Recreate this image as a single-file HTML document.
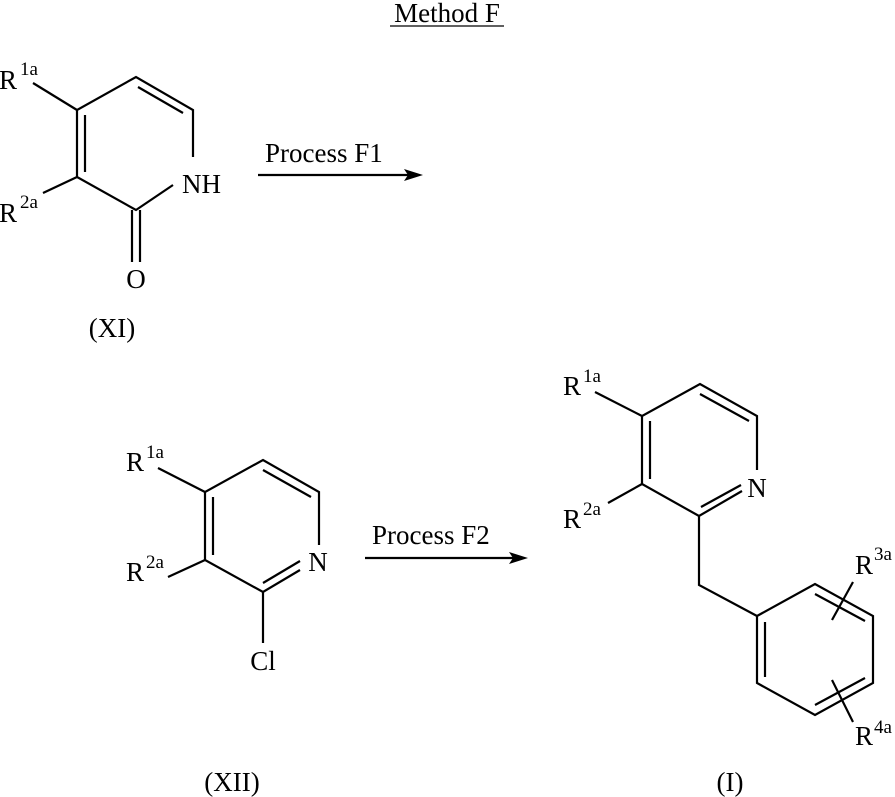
<!DOCTYPE html>
<html><head><style>
html,body{margin:0;padding:0;background:#fff;}
svg{display:block;}
text{font-family:"Liberation Serif",serif;font-size:27px;fill:#000;}
.s{font-size:19px;}
</style></head><body>
<svg width="895" height="797" viewBox="0 0 895 797" xmlns="http://www.w3.org/2000/svg">
<g stroke="#000" stroke-width="2.2" fill="none" stroke-linecap="butt">
<!-- XI -->
<polyline points="193,157 193,110 136,77 77,110 77,177 136,210 173,185"/>
<line x1="85" y1="115" x2="85" y2="172"/>
<line x1="138" y1="87" x2="183" y2="113"/>
<line x1="132" y1="210" x2="132" y2="262"/>
<line x1="140" y1="210" x2="140" y2="262"/>
<line x1="77" y1="110" x2="33" y2="83"/>
<line x1="77" y1="177" x2="43" y2="193"/>
<line x1="258" y1="175" x2="410" y2="175"/>
<!-- XII -->
<polyline points="319,545 319,492 263,460 205,492 205,560 263,592 300,570"/>
<line x1="213" y1="497" x2="213" y2="555"/>
<line x1="263" y1="470" x2="311" y2="497"/>
<line x1="263" y1="583" x2="300" y2="561"/>
<line x1="263" y1="592" x2="263" y2="643"/>
<line x1="205" y1="492" x2="158" y2="468"/>
<line x1="205" y1="560" x2="168" y2="577"/>
<line x1="365" y1="558" x2="515" y2="558"/>
<!-- I -->
<polyline points="757,470 757,416 700,384 642,416 642,484 699,516 742,491"/>
<line x1="650" y1="421" x2="650" y2="479"/>
<line x1="700" y1="394" x2="749" y2="421"/>
<line x1="701" y1="507" x2="741" y2="485"/>
<polyline points="699,516 699,585 757,616"/>
<polygon points="757,616 815,584 873,616 873,683 815,715 757,683"/>
<line x1="765" y1="622" x2="765" y2="677"/>
<line x1="815" y1="594" x2="865" y2="621"/>
<line x1="815" y1="705" x2="865" y2="678"/>
<line x1="853" y1="582" x2="832" y2="620"/>
<line x1="832" y1="680" x2="853" y2="722"/>
<line x1="642" y1="416" x2="595" y2="392"/>
<line x1="642" y1="484" x2="608" y2="503"/>
<!-- underline -->
<line x1="390" y1="26" x2="504" y2="26" stroke-width="1.2"/>
</g>
<polygon points="423,175 404,169 408,175 404,181" fill="#000"/>
<polygon points="528,558 509,552 513,558 509,564" fill="#000"/>
<text x="447" y="22" text-anchor="middle">Method F</text>
<!-- XI labels -->
<text x="-1" y="89">R</text><text class="s" x="20" y="75">1a</text>
<text x="-1" y="222">R</text><text class="s" x="20" y="208">2a</text>
<text x="182" y="193">NH</text>
<text x="136" y="288" text-anchor="middle">O</text>
<text x="265" y="162">Process F1</text>
<text x="112" y="337" text-anchor="middle">(XI)</text>
<!-- XII labels -->
<text x="126" y="471">R</text><text class="s" x="146" y="458">1a</text>
<text x="126" y="581">R</text><text class="s" x="146" y="568">2a</text>
<text x="318" y="571" text-anchor="middle">N</text>
<text x="263" y="670" text-anchor="middle">Cl</text>
<text x="372" y="544">Process F2</text>
<text x="232" y="791" text-anchor="middle">(XII)</text>
<!-- I labels -->
<text x="563" y="395">R</text><text class="s" x="583" y="382">1a</text>
<text x="563" y="528">R</text><text class="s" x="583" y="515">2a</text>
<text x="757" y="497" text-anchor="middle">N</text>
<text x="855" y="574">R</text><text class="s" x="874" y="560">3a</text>
<text x="855" y="745">R</text><text class="s" x="874" y="733">4a</text>
<text x="730" y="791" text-anchor="middle">(I)</text>
</svg>
</body></html>
